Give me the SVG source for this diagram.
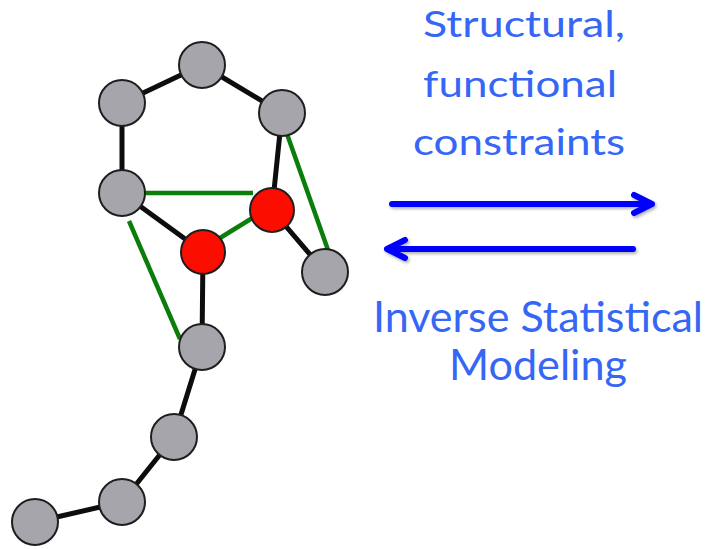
<svg xmlns="http://www.w3.org/2000/svg" width="708" height="549" viewBox="0 0 708 549">
<style>
.bond{stroke:#0d0d0d;stroke-width:5;stroke-linecap:round;fill:none}
.con{stroke:#0a7d0a;stroke-width:4.5;fill:none}
.g{fill:#a6a5ab;stroke:#1e1e1e;stroke-width:2}
.r{fill:#fb0d00;stroke:#1e1e1e;stroke-width:2}
.arr{stroke:#0000ff;stroke-width:6;stroke-linecap:round;stroke-linejoin:round;fill:none}
.t{fill:#3566f5;font-family:Lato,"Open Sans",sans-serif;text-anchor:middle}
</style>
<defs>
<filter id="sh" x="-10%" y="-50%" width="120%" height="200%">
<feDropShadow dx="1.5" dy="2" stdDeviation="1.5" flood-color="#000" flood-opacity="0.3"/>
</filter>
</defs>
<g id="connectors">
<line class="bond" x1="122" y1="103" x2="202" y2="65"/>
<line class="bond" x1="202" y1="65" x2="282" y2="113"/>
<line class="bond" x1="122" y1="103" x2="122" y2="193"/>
<line class="bond" x1="282" y1="113" x2="272" y2="210"/>
<line class="bond" x1="122" y1="193" x2="203" y2="252"/>
<line class="bond" x1="272" y1="210" x2="325" y2="272"/>
<line class="bond" x1="203" y1="252" x2="202" y2="347"/>
<line class="bond" x1="202" y1="347" x2="174" y2="437"/>
<line class="bond" x1="174" y1="437" x2="122" y2="502"/>
<line class="bond" x1="122" y1="502" x2="35" y2="522"/>
<line class="con" x1="143" y1="193" x2="253" y2="193"/>
<line class="con" x1="220" y1="238" x2="254" y2="217"/>
<line class="con" x1="287" y1="134" x2="328" y2="250"/>
<line class="con" x1="129" y1="221" x2="180" y2="339"/>
</g>
<g id="n1"><circle class="g" cx="202" cy="65" r="23"/></g>
<g id="n2"><circle class="g" cx="122" cy="103" r="23"/></g>
<g id="n3"><circle class="g" cx="282" cy="113" r="23"/></g>
<g id="n4"><circle class="g" cx="122" cy="193" r="23"/></g>
<g id="n5"><circle class="r" cx="272" cy="210" r="22"/></g>
<g id="n6"><circle class="r" cx="203" cy="252" r="22"/></g>
<g id="n7"><circle class="g" cx="325" cy="272" r="23"/></g>
<g id="n8"><circle class="g" cx="202" cy="347" r="23"/></g>
<g id="n9"><circle class="g" cx="174" cy="437" r="23"/></g>
<g id="n10"><circle class="g" cx="122" cy="502" r="23"/></g>
<g id="n11"><circle class="g" cx="35" cy="522" r="23"/></g>
<g id="arrows" filter="url(#sh)">
<path class="arr" d="M392,204 H652 M634,195 L652,204 L634,213"/>
<path class="arr" d="M633,249 H387 M405,240 L387,249 L405,258"/>
</g>
<g id="labels">
<text class="t" x="524" y="37" font-size="36" textLength="202" lengthAdjust="spacingAndGlyphs">Structural,</text>
<text class="t" x="520" y="97" font-size="36" textLength="194" lengthAdjust="spacingAndGlyphs">functional</text>
<text class="t" x="519" y="155" font-size="36" textLength="212" lengthAdjust="spacingAndGlyphs">constraints</text>
<text class="t" x="538" y="332" font-size="42" textLength="330" lengthAdjust="spacingAndGlyphs">Inverse Statistical</text>
<text class="t" x="538" y="380" font-size="42" textLength="178" lengthAdjust="spacingAndGlyphs">Modeling</text>
</g>
</svg>
